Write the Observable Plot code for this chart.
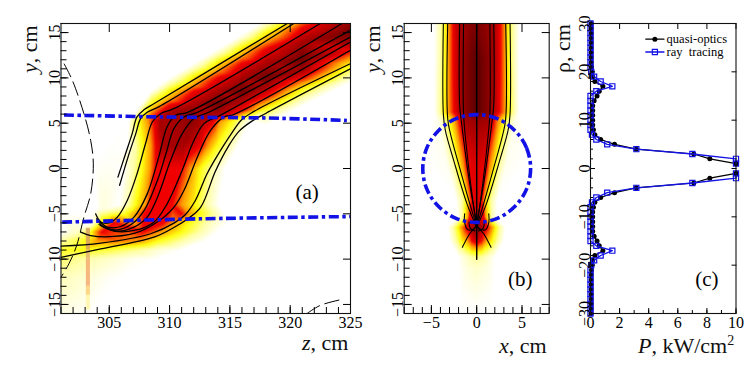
<!DOCTYPE html>
<html><head><meta charset="utf-8">
<script src="https://cdn.jsdelivr.net/npm/d3@7"></script>
<script src="https://cdn.jsdelivr.net/npm/@observablehq/plot@0.6"></script>
<style>
html,body{margin:0;padding:0;background:#fff;overflow:hidden}
#stage{position:relative;width:747px;height:374px;font-family:"Liberation Serif",serif;color:#111}
.lab{position:absolute;font-size:22px;white-space:nowrap;line-height:20px}
.rot{transform-origin:0 0;transform:rotate(-90deg)}
sup{font-size:14px;line-height:0}
</style></head><body><div id="stage"></div>
<script>
// heat level → colour
const heatLevels=[0,1,2,3,4,5,6];
const heatColours=["#ffffff","#ffffa8","#ffff10","#ff9a00","#f00000","#a80000","#5a0000"];

// panel (a): heat samples, sections of [z,level] at a fixed y
const heatRowsA=[
 {y:5.2,s:[[306.6,0],[306.9,1],[307.5,2],[308.2,3],[308.7,4],[309.2,5],[312.6,5],[313.7,4],[314.2,3],[315.2,2],[315.9,1],[316.7,0]]},
 {y:2.5,s:[[306.5,0],[307.2,1],[307.8,2],[308.45,3],[308.85,4],[309.5,5],[311.2,5],[312.6,4],[313.2,3],[313.95,2],[314.9,1],[315.7,0]]},
 {y:0,s:[[306.2,0],[307.05,1],[307.73,2],[308.4,3],[308.84,4],[311,4],[311.74,3],[312.57,2],[313.5,1],[314.6,0]]},
 {y:-4,s:[[305.8,0],[306.6,1],[307.2,2],[308,3],[308.4,4],[310.2,4],[311,3],[312.15,2],[313.1,1],[314.1,0]]},
 {y:-4.5,s:[[303.9,0],[304.5,0.4],[305.2,0.6],[306,0.9]]},
 {y:-5,s:[[303.7,0.1],[304.3,1.1],[305.1,1.5],[306.2,1.8],[307.3,3],[307.9,4],[311,4],[311.6,3],[312.6,2],[313.7,1],[314.6,0]]},
 {y:-6,s:[[303.4,0],[303.9,1],[304.3,2],[304.9,3],[305.4,4],[309.5,4],[310.3,3],[311.6,2],[313,1],[314.8,0]]},
 {y:-7,s:[[301,0],[302.2,0.6],[303.3,1.6],[303.9,3],[304.4,4],[307.8,4],[309.3,3],[311,2],[312.5,1],[314,0]]},
 {y:-8,s:[[301,1],[303,2],[304,3],[305.5,3.3],[307.5,3],[309,2],[311,1],[313,0]]},
 {y:-9,s:[[301,1.9],[303,2],[305,1.7],[307,1.2],[309,0.5],[311,0]]},
 {y:-10,s:[[301,1.4],[303,1],[305,0.6],[307,0.2],[309,0]]},
 {y:-12,s:[[301,0.8],[303,0.5],[305,0.1],[306,0]]},
 {y:-15,s:[[301,0.4],[303,0.2],[304,0]]},
 {y:-16,s:[[301,0.3],[303,0.1],[304,0],[325,0]]},
 {y:0.5,s:[[325,0]]},
 {y:1,s:[[303.8,0],[305,0.08],[306,0.15]]}
];
// panel (a): heat samples, sections of [y,level] at a fixed z
const heatColsA=[
 {z:308.5,s:[[8.6,0],[8.0,1],[7.1,2],[6.3,3],[5.7,3.6]]},
 {z:310,s:[[10,0],[9.3,1],[8.6,2],[7.6,3],[7,4],[6.2,5]]},
 {z:312,s:[[11.6,0],[10.9,1],[10.2,2],[9.2,3],[8.5,4],[7,5],[6,5.4]]},
 {z:314,s:[[13.2,0],[12.5,1],[11.8,2],[10.8,3],[10,4],[8.5,5],[7.2,5.7],[6,5]]},
 {z:316,s:[[14.8,0],[14.1,1],[13.4,2],[12.4,3],[11.6,4],[10,5],[8.5,5.7],[7.5,5],[6.4,4]]},
 {z:318,s:[[16.4,0],[15.7,1],[15,2],[14,3],[13.2,4],[11.5,5],[10,5.7],[9,5],[8,4],[7.3,3],[6.6,2],[5.7,1],[4.8,0]]},
 {z:321,s:[[19,0],[18,1],[17.3,2],[16.4,3],[15.5,4],[14,5],[12,5.7],[10.8,5],[10,4],[9.4,3],[8.7,2],[7.8,1],[6.9,0]]},
 {z:325,s:[[22,3],[20,4],[18,4.4],[16.5,5],[15,5.7],[13.8,5],[13,4],[12.2,3],[11.4,2],[10.4,1],[9.5,0]]},
 {z:301,s:[[16,0],[-5,0]]},
 {z:303,s:[[16,0],[-5,0]]}
];
// panel (a): faint vertical streak near z = 303.3
const streakY1=[-6.6,-9,-10,-13,-14];
const streakY2=[-9,-10,-13,-14,-15.6];
const streakColours=["#d9a060","#e6b070","#f5ab70","#ffd078","#fff6a8"];
const streakZ=[303.1,303.44];

// panel (a): ray trajectories
const raysA=[
 [[319.76,16],[308.7,7.15],[307.9,6.5],[307.3,5.7],[306.9,3.85],[306.36,1.65],[305.72,-0.95]],
 [[320.3,16],[309.1,6.8],[308.15,6.2],[307.6,5.5],[307.2,3.85],[306.6,1.45],[305.86,-1.85]],
 [[322.5,16],[310.36,6.6],[309.26,6.05],[308.57,5.13],[308,2.7],[307.3,-0.6],[306.5,-3.5],[305.67,-5.37],[305,-6],[304.3,-5.9],[303.87,-5]],
 [[324.3,16],[311.5,6.2],[310.5,5.87],[309.8,4.6],[309.1,1.26],[308.15,-2.8],[307.05,-5.37],[305.95,-6.4],[304.84,-6.47],[304.15,-5.74]],
 [[325,15.26],[312.3,6.2],[311.2,5.68],[310.36,4.4],[309.7,1.63],[309,-1.3],[307.9,-4.63],[306.9,-6.1],[305.67,-6.77],[304.56,-6.47],[303.96,-5.55]],
 [[325,14.52],[313.1,6.12],[312,5.5],[311.05,3.84],[310.09,0.9],[309,-3.16],[308.15,-5.37],[307.05,-6.47],[305.67,-6.92],[304.3,-6.3]],
 [[325,13.97],[314.2,5.87],[312.85,4.95],[311.9,2.73],[311.05,-0.2],[309.8,-3.9],[308.7,-5.92],[307.05,-6.84],[305.4,-6.9],[304.15,-6.18]],
 [[325,13.05],[315.4,6],[314.5,5.67],[313.4,4.2],[312.3,1.25],[311.2,-2.4],[310.35,-4.3],[309.5,-5.4],[307.6,-6.9],[305.4,-7.5],[303.46,-7.4],[302.63,-7.03]],
 [[325,11.57],[317,6.3],[316,5.4],[315.1,3.8],[313.95,1.4],[313.1,-0.6],[312.15,-3.5],[311.3,-5.1],[310.4,-6],[308.43,-7.2],[304.3,-8.24],[301,-8.57]],
 [[325,11],[318,6.1],[316.8,5.2],[315.75,4.1],[314.9,2.5],[313.8,-0.3],[312.57,-4.3],[311.46,-5.6],[310.5,-6.4],[308.7,-7.58],[304.3,-8.87],[301,-9.8]]
];
const dashedA=[
 [[301.25,11.57],[301.94,9.73],[302.9,6.05],[303.46,3.1],[303.68,0.52],[303.46,-2.8],[302.9,-5.37],[302.3,-8.5],[301.66,-10.5],[301,-12]],
 [[321.4,-16],[322.5,-15.1],[324.45,-14.4]]
];
const blueA=[
 [[301.25,5.9],[309.8,5.68],[318.1,5.57],[324.7,5.3]],
 [[301.1,-5.92],[312.6,-5.55],[325,-5.3]]
];

// panel (b): heat samples, half profile [|x|,level] at a fixed y
const heatRowsB=[
 {y:16,s:[[0,5.6],[1,5.3],[1.9,5],[2.6,4],[3.1,3],[3.5,2],[4,1],[4.7,0]]},
 {y:12,s:[[0,6],[1,5.5],[1.9,5],[2.6,4],[3.1,3],[3.5,2],[4,1],[4.7,0]]},
 {y:6.2,s:[[0,6],[1,5.5],[1.8,5],[2.5,4],[3.1,3],[3.6,2],[4.1,1],[4.7,0]]},
 {y:5.3,s:[[0,5.2],[1.3,5],[1.9,4],[2.4,3],[3,2],[3.6,1],[4.3,0.2],[5,0]]},
 {y:0.15,s:[[0,4.3],[1.1,4],[1.45,3],[2,2],[2.5,1],[3.2,0.15],[5,0]]},
 {y:-3.5,s:[[0,4.3],[0.6,4],[0.8,3],[1.2,2],[1.6,1],[2.3,0]]},
 {y:-5.4,s:[[0,4.3],[0.8,4],[1,3],[1.3,2],[1.6,1],[2.2,0]]},
 {y:-6.5,s:[[0,5.8],[0.5,5],[1.2,4],[1.7,3],[2.1,2],[2.6,1],[3.2,0]]},
 {y:-8,s:[[0,4.6],[0.5,4],[1,3],[1.7,2],[2.3,1],[3,0]]},
 {y:-9.8,s:[[0,1.2],[0.7,0.9],[1.3,0.5],[2,0]]},
 {y:-11,s:[[0,0.6],[1,0.4],[2,0]]},
 {y:-14,s:[[0,0.2],[1,0.1],[1.8,0]]},
 {y:-16,s:[[0,0],[1.8,0]]}
];
// panel (b): half rays, mirrored when drawn
const raysB=[
 [[3.68,16],[3.68,6],[3.46,4.2],[2.54,0.9],[1.07,-3.9],[0,-6.5]],
 [[3.2,16],[3.2,5.5],[2.9,3.85],[2,0.5],[0.88,-3.5],[0.15,-5.9]],
 [[1.88,16],[1.88,7],[1.62,4.6],[0.88,-0.95],[0,-6.1]],
 [[1.45,16],[1.45,6],[1.2,3],[0.5,-3],[0,-6.5]],
 [[0,-6.3],[0.77,-7.2],[1.58,-8.7]],
 [[1.33,-5],[1.33,-6],[0.96,-6.77],[0.2,-6.65]],
 [[0.85,-5.9],[0.7,-6.6],[0.2,-6.9]],
 [[0,16],[0,-10]]
];
const circleX=[5.95,5.5,4.2,2.28,0,-2.28,-4.2,-5.5,-5.95,-5.5,-4.2,-2.28,0,2.28,4.2,5.5];
const circleY=[0,2.28,4.2,5.5,5.95,5.5,4.2,2.28,0,-2.28,-4.2,-5.5,-5.95,-5.5,-4.2,-2.28];

// panel (c)
const rho=[1,2,3,4,5,6,7,8,9,10,11,12,13,14,15,16,17,18,19,20,21,22,23,24,25,26,27,28,29,30];
const quasi=[10,8.2,7.1,3.15,1.65,0.7,0.3,0.2,0.15,0.15,0.15,0.15,0.15,0.25,0.45,0.6,0.85,0.3,0.15,0.1,0.07,0.05,0.05,0.05,0.05,0.05,0.05,0.05,0.05,0.05];
const rays=[10,10,7,3.15,1.15,0.4,0.1,0,0,0,0,0,0,0,0,0.4,1.5,0.7,0.25,0.05,0,0,0,0,0,0,0,0,0,0];

const blue="#1212e6",black="#000";
const font={fontFamily:"Liberation Serif, serif",fontSize:16};
const dashDot="10,3.5,3.5,3.5";
const stage=document.getElementById("stage");

function ticks(xMajor,xMinor,yMajor,yMinor,xLen,yLen){
 const [xa,xb]=xLen,[ya,yb]=yLen;
 return [
  Plot.axisX(xMajor,{anchor:"bottom",tickSize:-xa,tickPadding:xa+3,label:null,fill:black}),
  Plot.axisX(xMinor,{anchor:"bottom",tickSize:-xb,tickFormat:()=>"",label:null}),
  Plot.axisX(xMajor,{anchor:"top",tickSize:-xa,tickFormat:()=>"",label:null}),
  Plot.axisY(yMajor,{anchor:"left",tickSize:-ya,tickPadding:ya+1,tickRotate:-90,label:null,fill:black}),
  Plot.axisY(yMinor,{anchor:"left",tickSize:-yb,tickFormat:()=>"",label:null}),
  Plot.axisY(yMajor,{anchor:"right",tickSize:-ya,tickFormat:()=>"",label:null}),
  Plot.frame({stroke:"#111",strokeWidth:1.1})
 ];
}
function place(el,left){el.style.position="absolute";el.style.left=left+"px";el.style.top="0";stage.appendChild(el);}
function label(html,left,top,rot){const d=document.createElement("div");d.className="lab"+(rot?" rot":"");d.innerHTML=html;d.style.left=left+"px";d.style.top=top+"px";stage.appendChild(d);return d;}

// ---- panel (a)
const heatA=[
 ...heatRowsA.flatMap(o=>o.s.map(([z,v])=>({z,y:o.y,v}))),
 ...heatColsA.flatMap(o=>o.s.map(([y,v])=>({z:o.z,y,v}))),
 {z:301,y:-30,v:0},{z:325,y:-30,v:0},{z:301,y:30,v:0},{z:330,y:30,v:0},{z:330,y:0,v:0},{z:330,y:-30,v:0}
];
const streak=streakY1.map((y1,i)=>({y1,y2:streakY2[i],c:streakColours[i]}));
const lineRows=(arr)=>arr.flatMap((l,k)=>l.map(([a,b])=>({a,b,k})));
place(Plot.plot({
 width:380,height:374,marginLeft:60.5,marginRight:30,marginTop:23,marginBottom:61,
 style:{...font,background:"transparent",color:black},
 x:{domain:[301,325]},y:{domain:[-16,16]},
 color:{type:"linear",domain:heatLevels,range:heatColours,interpolate:"rgb"},
 marks:[
  Plot.raster(heatA,{x:"z",y:"y",fill:"v",pixelSize:1,interpolate:"barycentric"}),
  Plot.rect(streak,{x1:()=>streakZ[0],x2:()=>streakZ[1],y1:"y1",y2:"y2",fill:"c",fillOpacity:0.85}),
  Plot.line(lineRows(raysA),{x:"a",y:"b",z:"k",stroke:black,strokeWidth:1.3,curve:"catmull-rom",clip:true}),
  Plot.line(lineRows(dashedA),{x:"a",y:"b",z:"k",stroke:black,strokeWidth:1,strokeDasharray:"15,5",strokeLinecap:"butt",curve:"catmull-rom",clip:true}),
  Plot.line(lineRows(blueA),{x:"a",y:"b",z:"k",stroke:blue,strokeWidth:3.6,strokeDasharray:dashDot,strokeLinecap:"butt",curve:"catmull-rom"}),
  Plot.text(["(a)"],{x:()=>321.4,y:()=>-2.6,fontSize:21,fill:black}),
  ...ticks([305,310,315,320,325],d3.range(301,326),[-15,-10,-5,0,5,10,15],d3.range(-16,17),[8,6],[8,6])
 ]}),0);

// ---- panel (b)
const heatB=heatRowsB.flatMap(o=>[...o.s.map(([x,v])=>({x,y:o.y,v})),...o.s.filter(d=>d[0]>0).map(([x,v])=>({x:-x,y:o.y,v})),{x:9,y:o.y,v:0},{x:-9,y:o.y,v:0}]);
const mirrored=raysB.flatMap((l,k)=>[l.map(([a,b])=>({a,b,k})),l.map(([a,b])=>({a:-a,b,k:k+100}))].flat());
place(Plot.plot({
 width:190,height:374,marginLeft:23.7,marginRight:21.3,marginTop:23,marginBottom:61,
 style:{...font,background:"transparent",color:black},
 x:{domain:[-8,8]},y:{domain:[-16,16]},
 color:{type:"linear",domain:heatLevels,range:heatColours,interpolate:"rgb"},
 marks:[
  Plot.raster(heatB,{x:"x",y:"y",fill:"v",pixelSize:1,interpolate:"barycentric"}),
  Plot.line(mirrored,{x:"a",y:"b",z:"k",stroke:black,strokeWidth:1.1,curve:"catmull-rom",clip:true}),
  Plot.line(circleX.map((x,i)=>({x,y:circleY[i]})),{x:"x",y:"y",stroke:blue,strokeWidth:3.6,strokeDasharray:dashDot,strokeLinecap:"butt",curve:"catmull-rom-closed"}),
  Plot.text(["(b)"],{x:()=>4.8,y:()=>-12.2,fontSize:21,fill:black}),
  ...ticks([-5,0,5],d3.range(-8,9),[-15,-10,-5,0,5,10,15],d3.range(-16,17),[8,6],[8,6])
 ]}),380);

// ---- panel (c)
const both=(vals)=>rho.flatMap((p,i)=>[{p:vals[i],rho:p,side:1},{p:vals[i],rho:-p,side:-1}]).sort((a,b)=>a.rho-b.rho);
const qo=both(quasi),rt=both(rays);
const legendP=[3.8,5.05];
place(Plot.plot({
 width:187,height:374,marginLeft:30,marginRight:11.5,marginTop:23,marginBottom:61,
 style:{...font,background:"transparent",color:black},
 x:{domain:[0,10]},y:{domain:[-30,30]},
 marks:[
  Plot.line(qo,{x:"p",y:"rho",z:"side",stroke:black,strokeWidth:1.2}),
  Plot.dot(qo,{x:"p",y:"rho",fill:black,r:2.5,stroke:"none"}),
  Plot.line(rt,{x:"p",y:"rho",z:"side",stroke:blue,strokeWidth:1.3}),
  Plot.dot(rt,{x:"p",y:"rho",symbol:"square",r:2.9,stroke:blue,strokeWidth:1.2,fill:"none"}),
  ...ticks([0,2,4,6,8,10],d3.range(0,11),d3.range(-30,31,10),d3.range(-30,31,2),[5,3],[5,3]),
  Plot.line(legendP,{x:d=>d,y:()=>26.75,stroke:black,strokeWidth:1.2}),
  Plot.dot([d3.mean(legendP)],{x:d=>d,y:()=>26.75,fill:black,r:2.5,stroke:"none"}),
  Plot.line(legendP,{x:d=>d,y:()=>24.1,stroke:blue,strokeWidth:1.3}),
  Plot.dot([d3.mean(legendP)],{x:d=>d,y:()=>24.1,symbol:"square",r:2.9,stroke:blue,strokeWidth:1.2,fill:"none"}),
  Plot.text(["quasi-optics"],{x:()=>5.23,y:()=>26.75,textAnchor:"start",fontSize:12.5,fill:black}),
  Plot.text(["ray  tracing"],{x:()=>5.23,y:()=>24.1,textAnchor:"start",fontSize:12.5,fill:black}),
  Plot.text(["(c)"],{x:()=>8,y:()=>-23,fontSize:21,fill:black})
 ]}),560);

// ---- axis titles
label("<i>y</i>, cm",20,73,true);
label("<i>y</i>, cm",363,73,true);
label("ρ, cm",553,73,true);
label("<i>z</i>, cm",302,333);
label("<i>x</i>, cm",499,336);
label("<i>P</i>, kW/cm<sup>2</sup>",638,336);
</script></body></html>
